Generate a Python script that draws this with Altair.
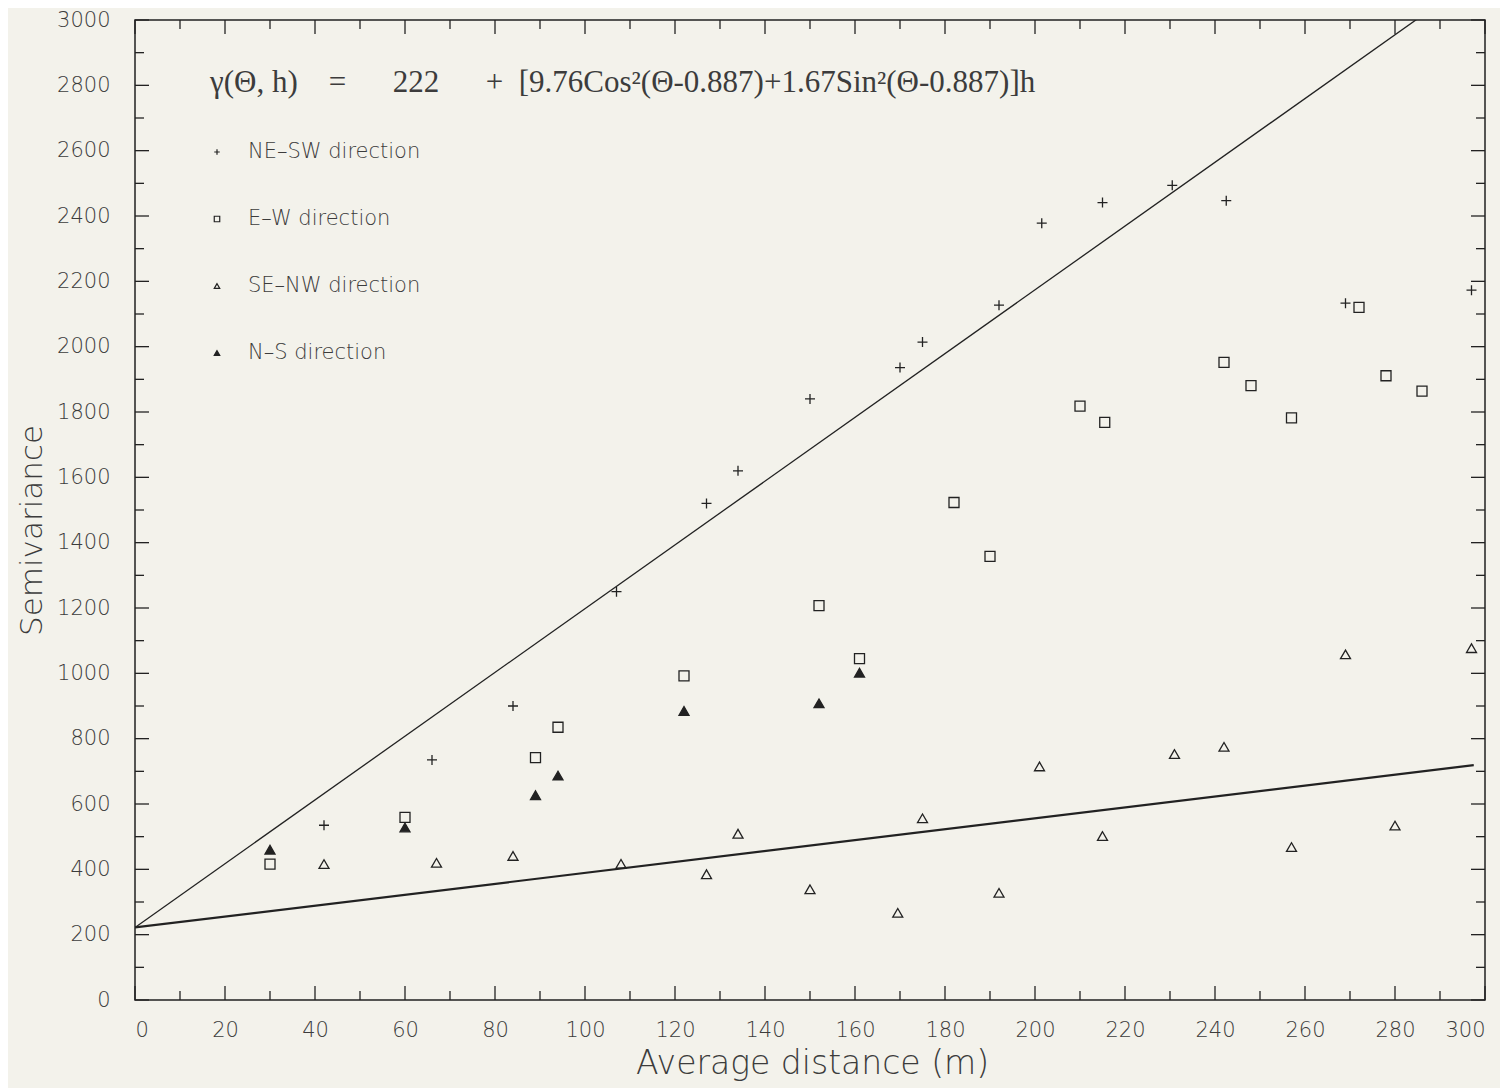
import altair as alt
import pandas as pd

# ---- data ----
ne_sw_x = [42, 66, 84, 107, 127, 134, 150, 170, 175, 192, 201.5, 215, 230.5, 242.5, 269, 297]
ne_sw_y = [535, 735, 900, 1250, 1520, 1620, 1840, 1936, 2014, 2127, 2378, 2441, 2494, 2447, 2133, 2173]

e_w_x = [30, 60, 89, 94, 122, 152, 161, 182, 190, 210, 215.5, 242, 248, 257, 272, 278, 286]
e_w_y = [416, 559, 742, 835, 992, 1207, 1045, 1523, 1358, 1818, 1768, 1952, 1881, 1782, 2120, 1911, 1864]

se_nw_x = [42, 67, 84, 108, 127, 134, 150, 169.5, 175, 192, 201, 215, 231, 242, 257, 269, 280, 297]
se_nw_y = [416, 420, 441, 417, 385, 509, 339, 267, 556, 328, 715, 502, 753, 775, 468, 1058, 534, 1077]

n_s_x = [30, 60, 89, 94, 122, 152, 161]
n_s_y = [460, 528, 627, 687, 885, 908, 1002]

series_names = ["NE–SW direction", "E–W direction", "SE–NW direction", "N–S direction"]

# model printed on the chart: gamma = 222 + [9.76 cos^2 + 1.67 sin^2] h
nugget = 222
slope_major = 9.76
slope_minor = 1.67
line_h = [0, 297.5]

EM = "\u2003"
EN = "\u2002"
equation = ("γ(Θ, h)" + EM + "=" + EM + EN + "222" + EM + EN + "+" + EN
            + "[9.76Cos²(Θ-0.887)+1.67Sin²(Θ-0.887)]h")

x_major = list(range(0, 301, 20))
x_minor = list(range(10, 300, 20))
y_major = list(range(0, 3001, 200))
y_minor = list(range(100, 3000, 200))

# ---- styles ----
W, H = 1350, 980
INK = "#222222"
TXT = "#3c3c3c"
FONT = "DejaVu Sans"
PLUS = "M-1,0L1,0M0,-1L0,1"
shapes = [PLUS, "square", "triangle-up", "triangle-up"]
fills = ["transparent", "transparent", "transparent", INK]

xs = alt.Scale(domain=[0, 300], nice=False, zero=False)
ys = alt.Scale(domain=[0, 3000], nice=False, zero=False)

x_axis = alt.Axis(title="Average distance (m)", values=x_major, format="d", ticks=False, domain=False,
                  grid=False, labelPadding=19, labelFontSize=21, labelColor=TXT,
                  labelFont=FONT, labelFontWeight=200, titleFont=FONT, titleFontSize=33,
                  titleFontWeight=200, titleColor=TXT, titleX=677, titleY=63,
                  titleBaseline="middle", titleAlign="center")
y_axis = alt.Axis(title="Semivariance", values=y_major, format="d", ticks=False, domain=False,
                  grid=False, labelPadding=25, labelFontSize=21, labelColor=TXT,
                  labelFont=FONT, labelFontWeight=200, titleFont=FONT, titleFontSize=31,
                  titleFontWeight=200, titleColor=TXT, titleX=-103, titleY=510,
                  titleAngle=-90, titleBaseline="middle", titleAlign="center")


def X(field):
    return alt.X(field, scale=xs, axis=x_axis)


def Y(field):
    return alt.Y(field, scale=ys, axis=y_axis)


series = [(ne_sw_x, ne_sw_y), (e_w_x, e_w_y), (se_nw_x, se_nw_y), (n_s_x, n_s_y)]

point_layers = []
for i, (sx, sy) in enumerate(series):
    d = pd.DataFrame({"h": sx, "g": sy})
    point_layers.append(
        alt.Chart(d).mark_point(shape=shapes[i], size=100, strokeWidth=1.3, stroke=INK,
                                fill=fills[i], opacity=1, filled=(i == 3))
        .encode(x=X("h:Q"), y=Y("g:Q"))
    )

fit_major = alt.Chart(pd.DataFrame({"h": line_h, "g": [nugget + slope_major * h for h in line_h]})) \
    .mark_line(color=INK, strokeWidth=1.3, clip=True).encode(x=X("h:Q"), y=Y("g:Q"))
fit_minor = alt.Chart(pd.DataFrame({"h": line_h, "g": [nugget + slope_minor * h for h in line_h]})) \
    .mark_line(color=INK, strokeWidth=2.2, clip=True).encode(x=X("h:Q"), y=Y("g:Q"))


def xticks(vals, length):
    d = pd.DataFrame({"h": vals})
    bottom = alt.Chart(d).mark_rule(color=INK, strokeWidth=1.3).encode(
        x=X("h:Q"), y=alt.value(H), y2=alt.value(H - length))
    top = alt.Chart(d).mark_rule(color=INK, strokeWidth=1.3).encode(
        x=X("h:Q"), y=alt.value(0), y2=alt.value(length))
    return [bottom, top]


def yticks(vals, length):
    d = pd.DataFrame({"g": vals})
    left = alt.Chart(d).mark_rule(color=INK, strokeWidth=1.3).encode(
        y=Y("g:Q"), x=alt.value(0), x2=alt.value(length))
    right = alt.Chart(d).mark_rule(color=INK, strokeWidth=1.3).encode(
        y=Y("g:Q"), x=alt.value(W), x2=alt.value(W - length))
    return [left, right]


tick_layers = xticks(x_major, 14) + xticks(x_minor, 9) + yticks(y_major, 14) + yticks(y_minor, 9)

eq = alt.Chart(pd.DataFrame({"t": [equation]})).mark_text(
    align="left", baseline="alphabetic", font="Liberation Serif", fontSize=31, color=TXT
).encode(text="t:N", x=alt.value(75), y=alt.value(72))

# hand-placed key (guide, not data)
legend_layers = []
for i, name in enumerate(series_names):
    dd = pd.DataFrame({"label": [name]})
    legend_layers.append(
        alt.Chart(dd).mark_point(shape=shapes[i], size=30, strokeWidth=1.2, stroke=INK,
                                 fill=fills[i], opacity=1, filled=(i == 3))
        .encode(x=alt.value(82), y=alt.value(132 + 67 * i))
    )
    legend_layers.append(
        alt.Chart(dd).mark_text(align="left", baseline="middle", font=FONT, fontSize=21,
                                fontWeight=200, color=TXT)
        .encode(text="label:N", x=alt.value(113), y=alt.value(132 + 67 * i))
    )

chart = alt.layer(*point_layers, fit_major, fit_minor, *tick_layers, eq, *legend_layers).properties(
    width=W, height=H,
    padding={"left": 127, "top": 12, "right": 15, "bottom": 88},
    autosize=alt.AutoSizeParams(type="none"),
    background="#f3f2eb",
).configure_view(stroke=INK, strokeWidth=1.5)

chart.save("out.html", embed_options={"renderer": "svg", "actions": False})
